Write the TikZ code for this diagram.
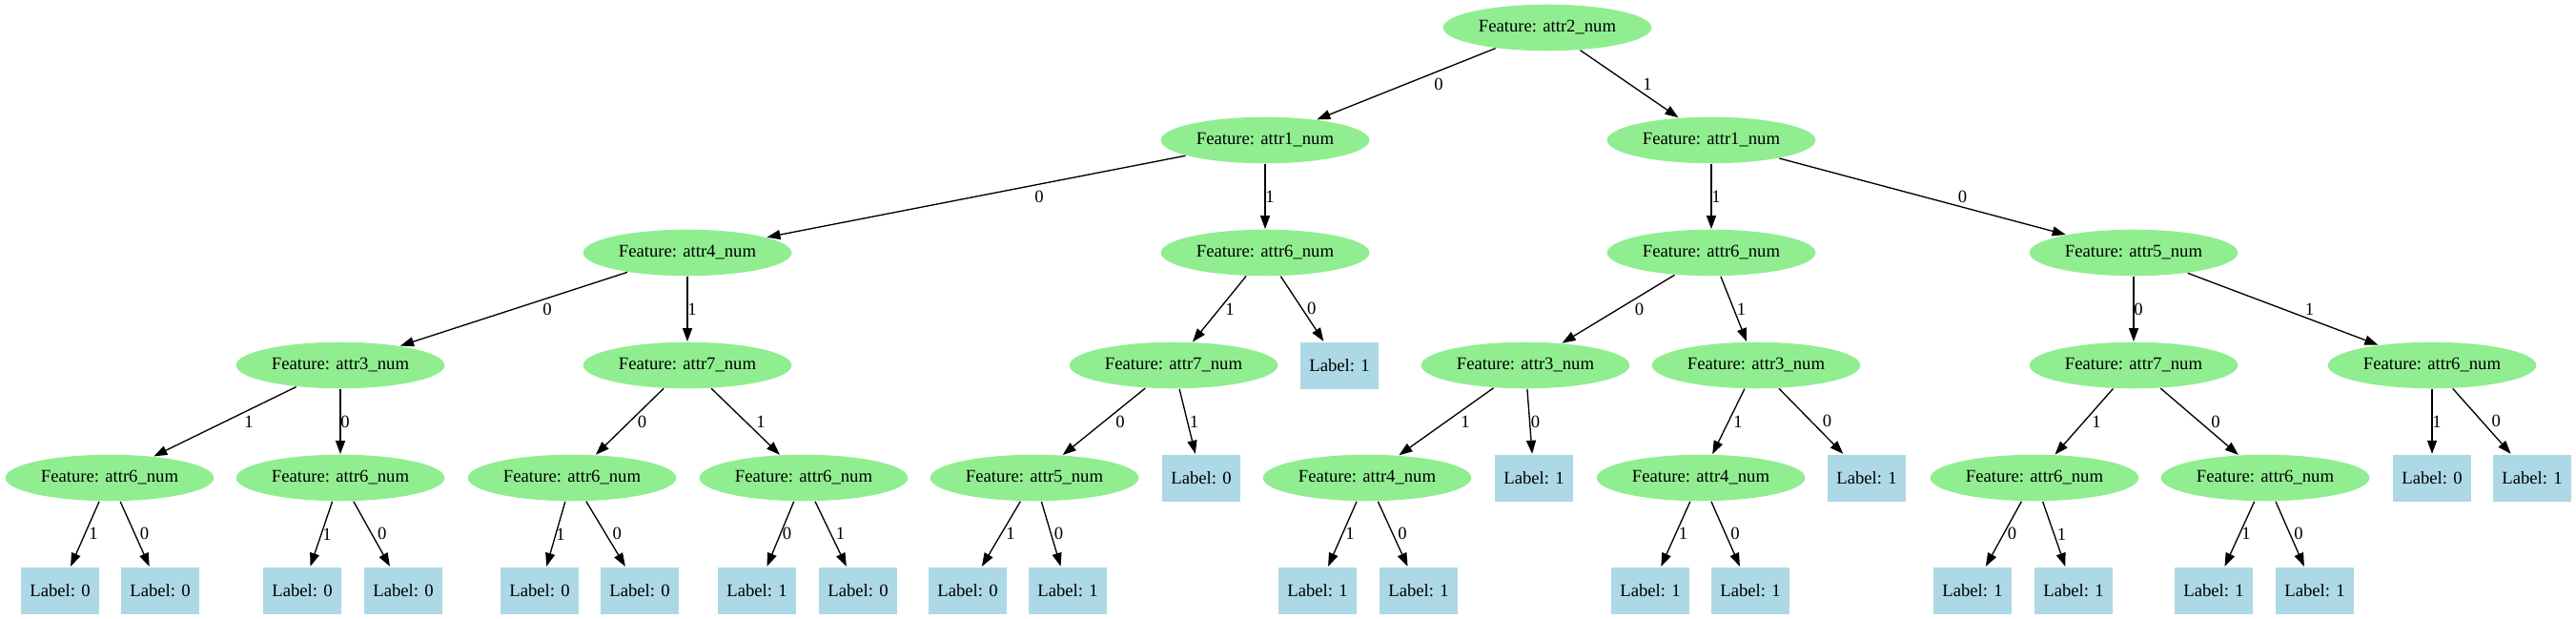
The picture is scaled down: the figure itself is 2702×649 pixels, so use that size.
\documentclass[tikz,border=0pt]{standalone}
\usepackage{fontspec}
\setmainfont{Liberation Serif}
\usepackage{tikz}
\usetikzlibrary{shapes}
\usetikzlibrary{arrows.meta}
\definecolor{featgreen}{HTML}{90EE90}
\definecolor{leafblue}{HTML}{ADD8E6}
\tikzset{
	feat node/.style={ellipse,fill=featgreen,minimum width=164pt,minimum height=36.4pt,
		inner sep=0pt,font=\fontsize{14pt}{16pt}\selectfont},
	leaf node/.style={rectangle,fill=leafblue,minimum width=61.5pt,minimum height=36.75pt,
		inner sep=0pt,font=\fontsize{14pt}{16pt}\selectfont},
	edge lab/.style={inner sep=0pt,font=\fontsize{14pt}{16pt}\selectfont}
}

\begin{document}
\begin{tikzpicture}[->,>={Triangle[length=10.5pt,width=7.5pt]},line width=1pt,x=0.75pt,y=-0.75pt]
      \useasboundingbox (0,0) rectangle (2702,649);

      % rank 0 and 1
      \node[feat node] (1) at (1623,29) {Feature: attr2\_num};
      \node[feat node] (2) at (1327,147) {Feature: attr1\_num};
      \node[feat node] (3) at (1795,147) {Feature: attr1\_num};

      % rank 2
      \node[feat node] (4) at (721,265) {Feature: attr4\_num};
      \node[feat node] (5) at (1327,265) {Feature: attr6\_num};
      \node[feat node] (6) at (1795,265) {Feature: attr6\_num};
      \node[feat node] (7) at (2238,265) {Feature: attr5\_num};

      % rank 3
      \node[feat node] (8) at (357,383) {Feature: attr3\_num};
      \node[feat node] (9) at (721,383) {Feature: attr7\_num};
      \node[feat node] (10) at (1231,383) {Feature: attr7\_num};
      \node[leaf node] (11) at (1405,383) {Label: 1};
      \node[feat node] (12) at (1600,383) {Feature: attr3\_num};
      \node[feat node] (13) at (1842,383) {Feature: attr3\_num};
      \node[feat node] (14) at (2238,383) {Feature: attr7\_num};
      \node[feat node] (15) at (2551,383) {Feature: attr6\_num};

      % rank 4
      \node[feat node] (16) at (115,501) {Feature: attr6\_num};
      \node[feat node] (17) at (357,501) {Feature: attr6\_num};
      \node[feat node] (18) at (600,501) {Feature: attr6\_num};
      \node[feat node] (19) at (843,501) {Feature: attr6\_num};
      \node[feat node] (20) at (1085,501) {Feature: attr5\_num};
      \node[leaf node] (21) at (1260,501) {Label: 0};
      \node[feat node] (22) at (1434,501) {Feature: attr4\_num};
      \node[leaf node] (23) at (1609,501) {Label: 1};
      \node[feat node] (24) at (1784,501) {Feature: attr4\_num};
      \node[leaf node] (25) at (1958,501) {Label: 1};
      \node[feat node] (26) at (2134,501) {Feature: attr6\_num};
      \node[feat node] (27) at (2376,501) {Feature: attr6\_num};
      \node[leaf node] (28) at (2551,501) {Label: 0};
      \node[leaf node] (29) at (2656,501) {Label: 1};

      % rank 5
      \node[leaf node] (30) at (63,619) {Label: 0};
      \node[leaf node] (31) at (168,619) {Label: 0};
      \node[leaf node] (32) at (317,619) {Label: 0};
      \node[leaf node] (33) at (423,619) {Label: 0};
      \node[leaf node] (34) at (566,619) {Label: 0};
      \node[leaf node] (35) at (671,619) {Label: 0};
      \node[leaf node] (36) at (794,619) {Label: 1};
      \node[leaf node] (37) at (900,619) {Label: 0};
      \node[leaf node] (38) at (1015,619) {Label: 0};
      \node[leaf node] (39) at (1120,619) {Label: 1};
      \node[leaf node] (40) at (1382,619) {Label: 1};
      \node[leaf node] (41) at (1488,619) {Label: 1};
      \node[leaf node] (42) at (1731,619) {Label: 1};
      \node[leaf node] (43) at (1836,619) {Label: 1};
      \node[leaf node] (44) at (2069,619) {Label: 1};
      \node[leaf node] (45) at (2175,619) {Label: 1};
      \node[leaf node] (46) at (2322,619) {Label: 1};
      \node[leaf node] (47) at (2428,619) {Label: 1};

      % parent/child/branch value/label shift
      \foreach \pa/\ch/\lab/\sh in {1/2/0/34, 1/3/1/19,
          2/4/0/66, 2/5/1/5, 3/6/1/5, 3/7/0/42,
          4/8/0/35, 4/9/1/5, 5/10/1/11, 5/11/0/10, 6/12/0/22, 6/13/1/8, 7/14/0/5, 7/15/1/28,
          8/16/1/25, 8/17/0/5, 9/18/0/13, 9/19/1/16, 10/20/0/17, 10/21/1/7,
          12/22/1/20, 12/23/0/6, 13/24/1/10, 13/25/0/17, 14/26/1/13, 14/27/0/17, 15/28/1/5, 15/29/0/15,
          16/30/1/9, 16/31/0/10, 17/32/1/6, 17/33/0/11, 18/34/1/5, 18/35/0/12, 19/36/0/7, 19/37/1/10,
          20/38/1/10, 20/39/0/8, 22/40/1/8, 22/41/0/10, 24/42/1/8, 24/43/0/10,
          26/44/0/9, 26/45/1/8, 27/46/1/7, 27/47/0/9}
        \path (\pa) edge node[edge lab,midway,xshift=\sh*0.75pt] {\lab} (\ch);
\end{tikzpicture}
\end{document}
